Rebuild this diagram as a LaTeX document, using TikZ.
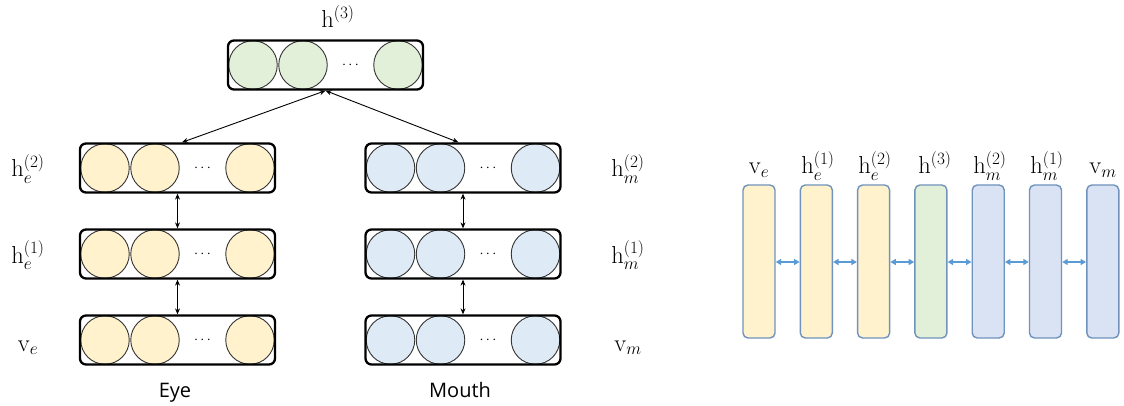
\documentclass[tikz,border=0pt]{standalone}
\usepackage{fontspec}
\newfontfamily\captionfont{Open Sans}
\usetikzlibrary{arrows.meta}
\definecolor{eyefill}{HTML}{FFF2CC}
\definecolor{mouthfill}{HTML}{DEEBF7}
\definecolor{barmouth}{HTML}{DAE3F3}
\definecolor{jointfill}{HTML}{E2F0D9}
\definecolor{barline}{HTML}{6F93BC}
\definecolor{linkblue}{HTML}{5B9BD5}

% one layer of units: #1 name, #2 x, #3 y, #4 fill colour
\newcommand\unitlayer[4]{%
  \node[unit, fill=#4] (#1c1) at (#2-72.5,#3) {};
  \node[unit, fill=#4] (#1c2) at (#2-22.5,#3) {};
  \node[unit, fill=#4] (#1c3) at (#2+72.5,#3) {};
  \node[dotsym] (#1d) at (#2+25,#3) {$\cdots$};
  \node[layerbox] (#1) at (#2,#3) {};
}

\begin{document}
\begin{tikzpicture}[x=1pt,y=-1pt,
  unit/.style={circle, draw=black!80, line width=0.9pt, minimum size=48.5pt, inner sep=0pt},
  layerbox/.style={draw=black, line width=2.3pt, rounded corners=6pt,
                   minimum width=195pt, minimum height=49pt, inner sep=0pt},
  dotsym/.style={font=\fontsize{15}{17}\selectfont, inner sep=0pt},
  lbl/.style={font=\fontsize{24.5}{27}\selectfont, anchor=base, inner sep=0pt},
  captext/.style={font=\captionfont\fontsize{20}{24}\selectfont, anchor=base, inner sep=0pt},
  bar/.style={draw=barline, line width=1.4pt, rounded corners=5pt,
              minimum width=32pt, minimum height=153pt, inner sep=0pt},
  link/.style={{Stealth[length=6pt,width=5pt]}-{Stealth[length=6pt,width=5pt]}, line width=0.9pt},
  barlink/.style={{Triangle[length=5.5pt,width=6pt]}-{Triangle[length=5.5pt,width=6pt]},
                  draw=linkblue, line width=1.5pt}
]
\useasboundingbox (0,0) rectangle (1124,406);

% ---------- stacked network ----------
\unitlayer{top}{325.5}{65}{jointfill}
\unitlayer{eA}{177.5}{168}{eyefill}
\unitlayer{eB}{177.5}{254}{eyefill}
\unitlayer{eC}{177.5}{340}{eyefill}
\unitlayer{mA}{463}{168}{mouthfill}
\unitlayer{mB}{463}{254}{mouthfill}
\unitlayer{mC}{463}{340}{mouthfill}

\node[lbl] (ltop) at (338,28) {$\mathrm{h}^{(3)}$};
\node[lbl] (leA) at (28,177) {$\mathrm{h}_e^{(2)}$};
\node[lbl] (leB) at (28,263) {$\mathrm{h}_e^{(1)}$};
\node[lbl] (leC) at (28,351) {$\mathrm{v}_e$};
\node[lbl] (lmA) at (628,177) {$\mathrm{h}_m^{(2)}$};
\node[lbl] (lmB) at (628,263) {$\mathrm{h}_m^{(1)}$};
\node[lbl] (lmC) at (628,351) {$\mathrm{v}_m$};

\node[captext] (eye) at (175,397) {Eye};
\node[captext] (mouth) at (460,397) {Mouth};

\draw[link] (top.south) -- ([xshift=4.5pt]eA.north);
\draw[link] (top.south) -- ([xshift=-4.5pt]mA.north);
\draw[link] (eA.south) -- (eB.north);
\draw[link] (eB.south) -- (eC.north);
\draw[link] (mA.south) -- (mB.north);
\draw[link] (mB.south) -- (mC.north);

% ---------- unrolled chain ----------
\node[bar, fill=eyefill]   (b1) at (759,261.5) {};
\node[bar, fill=eyefill]   (b2) at (816.3,261.5) {};
\node[bar, fill=eyefill]   (b3) at (873.6,261.5) {};
\node[bar, fill=jointfill] (b4) at (930.9,261.5) {};
\node[bar, fill=barmouth]  (b5) at (988.2,261.5) {};
\node[bar, fill=barmouth]  (b6) at (1045.5,261.5) {};
\node[bar, fill=barmouth]  (b7) at (1102.8,261.5) {};

\node[lbl] (t1) at (759,174) {$\mathrm{v}_e$};
\node[lbl] (t2) at (818,174) {$\mathrm{h}_e^{(1)}$};
\node[lbl] (t3) at (875,174) {$\mathrm{h}_e^{(2)}$};
\node[lbl] (t4) at (935,174) {$\mathrm{h}^{(3)}$};
\node[lbl] (t5) at (990,174) {$\mathrm{h}_m^{(2)}$};
\node[lbl] (t6) at (1047,174) {$\mathrm{h}_m^{(1)}$};
\node[lbl] (t7) at (1103,174) {$\mathrm{v}_m$};

\foreach \a/\b in {1/2,2/3,3/4,4/5,5/6,6/7}
  \draw[barlink] ([yshift=-0.5pt]b\a.east) -- ([yshift=-0.5pt]b\b.west);
\end{tikzpicture}
\end{document}
